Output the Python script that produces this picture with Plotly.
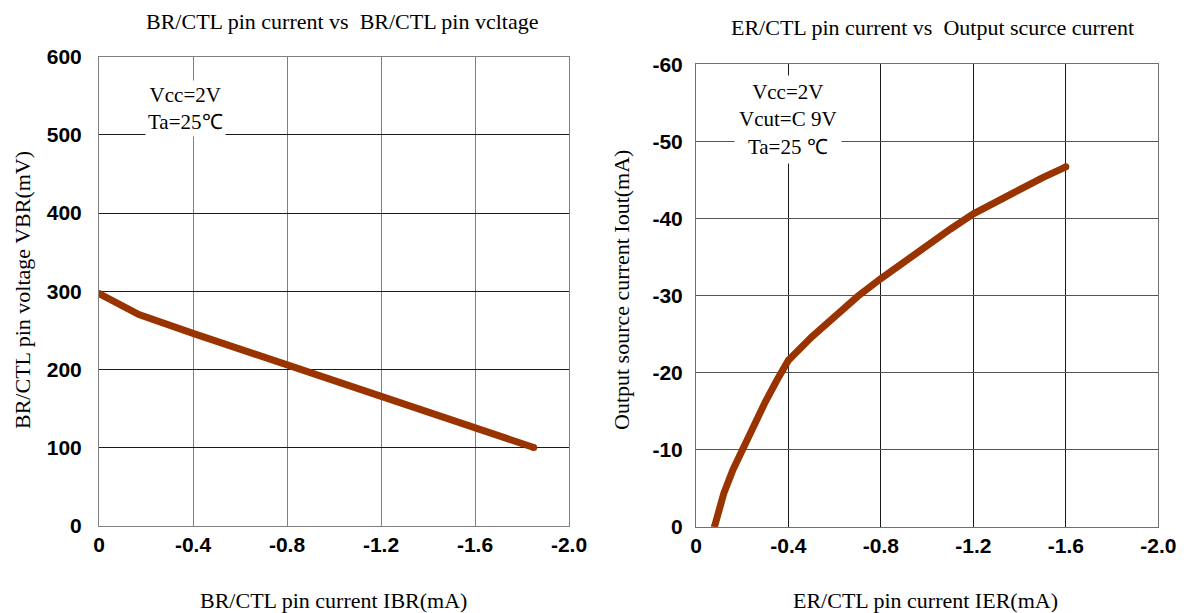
import plotly.graph_objects as go

# Left chart data
ibr = [0, -0.17, -0.4, -0.8, -1.2, -1.6, -1.85]
vbr = [297, 270, 246, 206, 166, 125, 100]

# Right chart data
ier = [-0.08, -0.12, -0.16, -0.2, -0.25, -0.3, -0.35, -0.4, -0.5, -0.6, -0.7, -0.8,
       -0.9, -1.0, -1.1, -1.2, -1.3, -1.4, -1.5, -1.6]
iout = [0, -4.3, -7.4, -10.0, -13.2, -16.2, -19, -21.6, -24.6, -27.4, -29.9, -32.2,
        -34.4, -36.5, -38.6, -40.6, -42.2, -43.8, -45.3, -46.7]

x_ticks = [0, -0.4, -0.8, -1.2, -1.6, -2.0]
x_ticktext = ["0", "-0.4", "-0.8", "-1.2", "-1.6", "-2.0"]
left_y_ticks = [0, 100, 200, 300, 400, 500, 600]
left_y_text = ["0", "100", "200", "300", "400", "500", "600"]
right_y_ticks = [0, -10, -20, -30, -40, -50, -60]
right_y_text = ["0", "-10", "-20", "-30", "-40", "-50", "-60"]

LINE = "#993300"
SERIF = "Liberation Serif"
SANS = "Liberation Sans"

# figure sits inside the page body (8px offset); work in page pixels
W, H, OFF = 1181, 605, 8


def px(x):
    return (x - OFF) / W


def py(y):
    return 1 - (y - OFF) / H


fig = go.Figure()
fig.add_trace(go.Scatter(x=ibr, y=vbr, mode="lines", line=dict(color=LINE, width=7),
                         xaxis="x", yaxis="y", showlegend=False, hoverinfo="skip"))
fig.add_trace(go.Scatter(x=[ibr[0], ibr[-1]], y=[vbr[0], vbr[-1]], mode="markers",
                         marker=dict(color=LINE, size=7), xaxis="x", yaxis="y",
                         showlegend=False, hoverinfo="skip"))
fig.add_trace(go.Scatter(x=ier, y=iout, mode="lines", line=dict(color=LINE, width=7),
                         xaxis="x2", yaxis="y2", showlegend=False, hoverinfo="skip"))
fig.add_trace(go.Scatter(x=[ier[0], ier[-1]], y=[iout[0], iout[-1]], mode="markers",
                         marker=dict(color=LINE, size=7), xaxis="x2", yaxis="y2",
                         showlegend=False, hoverinfo="skip"))

tickfont = dict(family=SANS, size=21, color="black", weight="bold")

common_x = dict(tickvals=x_ticks, ticktext=x_ticktext, tickfont=tickfont, showgrid=True,
                zeroline=False, showline=True, mirror=True, ticks="", fixedrange=True,
                automargin=False)
common_y = dict(tickfont=tickfont, showgrid=True, zeroline=False, showline=True,
                mirror=True, ticks="", fixedrange=True, automargin=False)

tfont = dict(family=SERIF, size=22, color="black")
afont = dict(family=SERIF, size=21, color="black")


def ann(text, x, y, font, **kw):
    d = dict(text=text, xref="paper", yref="paper", x=px(x), y=py(y), xanchor="center",
             yanchor="middle", showarrow=False, font=font)
    d.update(kw)
    return d


fig.update_layout(
    width=W, height=H,
    margin=dict(l=0, r=0, t=0, b=0, autoexpand=False),
    paper_bgcolor="white", plot_bgcolor="white",
    xaxis=dict(domain=[px(99), px(569)], range=[0, -2.0], gridcolor="#808080",
               linecolor="#808080", anchor="y", **common_x),
    yaxis=dict(domain=[py(525.6), py(56.7)], range=[0, 600], tickvals=left_y_ticks,
               ticktext=left_y_text, ticklabelstandoff=12,
               gridcolor="#1a1a1a", linecolor="#808080", anchor="x", **common_y),
    xaxis2=dict(domain=[px(696), px(1158.3)], range=[0, -2.0], gridcolor="#1a1a1a",
                linecolor="#707070", anchor="y2", **common_x),
    yaxis2=dict(domain=[py(526.7), py(64.3)], range=[0, -60], tickvals=right_y_ticks,
                ticktext=right_y_text, ticklabelstandoff=8,
                gridcolor="#555555", linecolor="#707070", anchor="x2", **common_y),
    annotations=[
        ann("BR/CTL pin current vs  BR/CTL pin vcltage", 342, 21, tfont),
        ann("ER/CTL pin current vs  Output scurce current", 932, 27, tfont),
        ann("BR/CTL pin current IBR(mA)", 333, 600, tfont),
        ann("ER/CTL pin current IER(mA)", 925, 600, tfont),
        ann("BR/CTL pin voltage VBR(mV)", 22, 290, tfont, textangle=-90),
        ann("Output source current Iout(mA)", 621, 290, tfont, textangle=-90),
        ann("Vcc=2V<br>Ta=25℃", 185, 108, afont, bgcolor="white", borderpad=2),
        ann("Vcc=2V<br>Vcut=C 9V<br>Ta=25 ℃", 788, 119, afont, bgcolor="white", borderpad=4),
    ],
)

fig.write_html("out.html")
